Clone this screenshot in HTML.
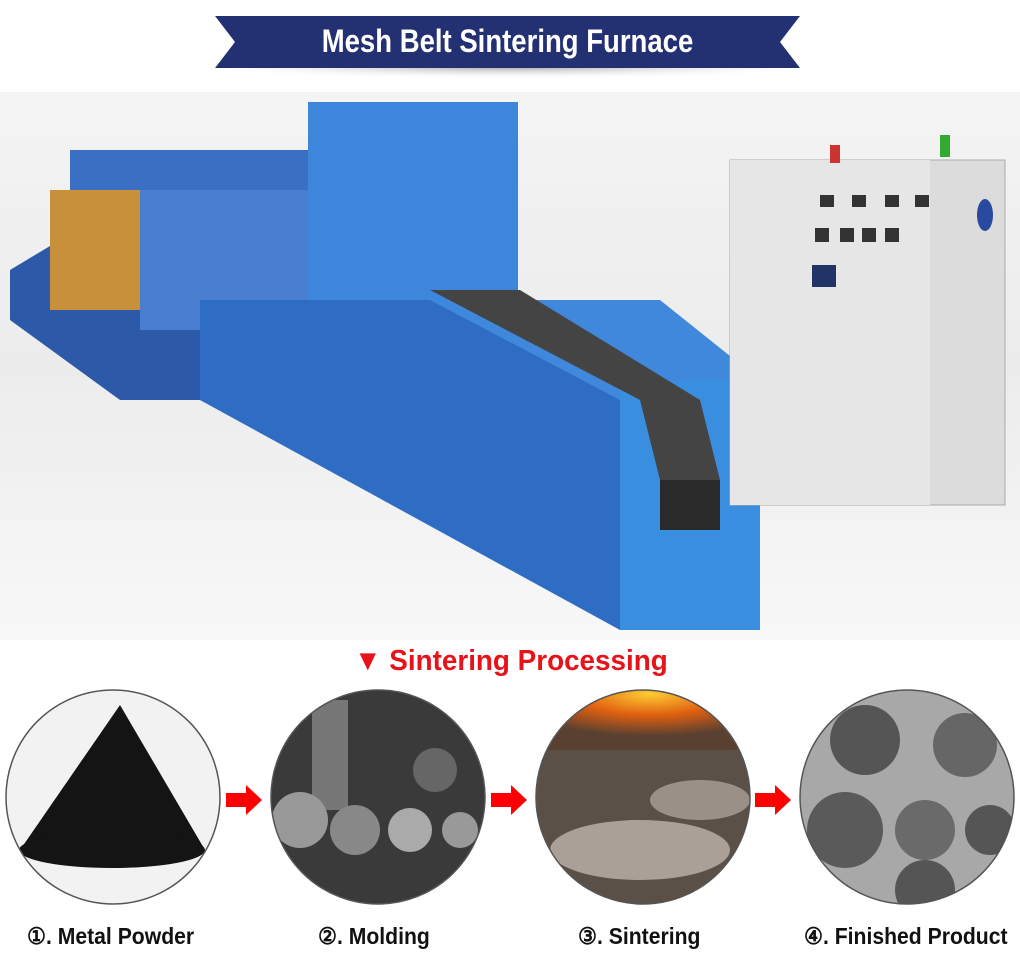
<!DOCTYPE html>
<html><head><style>
body{margin:0;width:1020px;height:964px;background:#fff;overflow:hidden;font-family:"Liberation Sans",sans-serif}
.t{position:absolute;font-weight:bold;white-space:nowrap}
</style></head><body>
<svg width="1020" height="964" style="position:absolute;left:0;top:0">
<defs>
<linearGradient id="bg" x1="0" y1="0" x2="0" y2="1"><stop offset="0" stop-color="#f4f4f4"/><stop offset="0.5" stop-color="#ececec"/><stop offset="1" stop-color="#f8f8f8"/></linearGradient>
<radialGradient id="sh" cx="0.5" cy="0" r="0.6"><stop offset="0" stop-color="#999"/><stop offset="1" stop-color="#fff" stop-opacity="0"/></radialGradient>
<radialGradient id="fire" cx="0.5" cy="0.2" r="0.6"><stop offset="0" stop-color="#ffcc33"/><stop offset="0.5" stop-color="#e06010"/><stop offset="1" stop-color="#5a4030"/></radialGradient>
<clipPath id="c1"><circle cx="113" cy="797" r="107"/></clipPath>
<clipPath id="c2"><circle cx="378" cy="797" r="107"/></clipPath>
<clipPath id="c3"><circle cx="643" cy="797" r="107"/></clipPath>
<clipPath id="c4"><circle cx="907" cy="797" r="107"/></clipPath>
</defs>
<rect x="230" y="66" width="560" height="22" fill="url(#sh)"/>
<polygon points="215,16 800,16 780,42 800,68 215,68 235,42" fill="#233173"/>
<rect x="0" y="92" width="1020" height="548" fill="url(#bg)"/>
<polygon points="10,270 60,240 200,240 200,400 120,400 10,320" fill="#2c5aa8"/>
<polygon points="70,150 310,150 310,250 70,250" fill="#3b6fc4"/>
<rect x="50" y="190" width="90" height="120" fill="#c8903a"/>
<polygon points="140,190 310,190 310,330 140,330" fill="#4a7ed0"/>
<rect x="308" y="102" width="210" height="220" fill="#3c86dc"/>
<polygon points="200,300 660,300 760,380 760,630 620,630 520,520 200,400" fill="#3f88dc"/>
<polygon points="200,300 430,300 620,400 620,630 200,400" fill="#2f6cc4"/>
<polygon points="620,380 760,380 760,630 620,630" fill="#3a8ee0"/>
<polygon points="430,290 520,290 700,400 720,480 670,520 640,400" fill="#444"/>
<rect x="660" y="480" width="60" height="50" fill="#2a2a2a"/>
<rect x="730" y="160" width="275" height="345" fill="#dcdcdc" stroke="#aaa"/>
<rect x="730" y="160" width="200" height="345" fill="#e6e6e6"/>
<rect x="830" y="145" width="10" height="18" fill="#c33"/>
<rect x="940" y="135" width="10" height="22" fill="#3a3"/>
<g fill="#333"><rect x="820" y="195" width="14" height="12"/><rect x="852" y="195" width="14" height="12"/><rect x="885" y="195" width="14" height="12"/><rect x="915" y="195" width="14" height="12"/>
<rect x="815" y="228" width="14" height="14"/><rect x="840" y="228" width="14" height="14"/><rect x="862" y="228" width="14" height="14"/><rect x="885" y="228" width="14" height="14"/>
<rect x="812" y="265" width="24" height="22" fill="#236"/></g>
<ellipse cx="985" cy="215" rx="8" ry="16" fill="#2a4aa0"/>
<g clip-path="url(#c1)"><rect x="0" y="680" width="230" height="230" fill="#f2f2f2"/><polygon points="20,850 120,705 205,850" fill="#141414"/><ellipse cx="112" cy="850" rx="93" ry="18" fill="#141414"/></g>
<g clip-path="url(#c2)"><rect x="260" y="680" width="240" height="230" fill="#3a3a3a"/><rect x="312" y="700" width="36" height="110" fill="#777"/><circle cx="300" cy="820" r="28" fill="#999"/><circle cx="355" cy="830" r="25" fill="#888"/><circle cx="410" cy="830" r="22" fill="#aaa"/><circle cx="460" cy="830" r="18" fill="#999"/><circle cx="435" cy="770" r="22" fill="#666"/></g>
<g clip-path="url(#c3)"><rect x="530" y="680" width="240" height="230" fill="#5a5048"/><rect x="530" y="680" width="240" height="70" fill="url(#fire)"/><ellipse cx="640" cy="850" rx="90" ry="30" fill="#aaa098"/><ellipse cx="700" cy="800" rx="50" ry="20" fill="#9a9088"/></g>
<g clip-path="url(#c4)"><rect x="795" y="680" width="240" height="230" fill="#a8a8a8"/><circle cx="865" cy="740" r="35" fill="#555"/><circle cx="965" cy="745" r="32" fill="#666"/><circle cx="845" cy="830" r="38" fill="#5a5a5a"/><circle cx="925" cy="830" r="30" fill="#6a6a6a"/><circle cx="990" cy="830" r="25" fill="#555"/><circle cx="925" cy="890" r="30" fill="#555"/></g>
<g fill="none" stroke="#555" stroke-width="1.5"><circle cx="113" cy="797" r="107"/><circle cx="378" cy="797" r="107"/><circle cx="643" cy="797" r="107"/><circle cx="907" cy="797" r="107"/></g>
<g fill="#f00"><polygon points="226,793 246,793 246,785 262,800 246,815 246,807 226,807"/><polygon points="491,793 511,793 511,785 527,800 511,815 511,807 491,807"/><polygon points="755,793 775,793 775,785 791,800 775,815 775,807 755,807"/></g>
</svg>
<div class="t" style="left:215px;width:585px;top:23px;text-align:center;color:#fff;font-size:32px;transform:scaleX(0.86)">Mesh Belt Sintering Furnace</div>
<div class="t" style="left:354px;top:645px;color:#e8131a;font-size:29px;transform:scaleX(0.96);transform-origin:left">▼ Sintering Processing</div>
<div class="t" style="left:27px;top:923px;font-size:23px;color:#111;transform:scaleX(0.92);transform-origin:left">①. Metal Powder</div>
<div class="t" style="left:318px;top:923px;font-size:23px;color:#111;transform:scaleX(0.92);transform-origin:left">②. Molding</div>
<div class="t" style="left:578px;top:923px;font-size:23px;color:#111;transform:scaleX(0.92);transform-origin:left">③. Sintering</div>
<div class="t" style="left:804px;top:923px;font-size:23px;color:#111;transform:scaleX(0.92);transform-origin:left">④. Finished Product</div>
</body></html>
